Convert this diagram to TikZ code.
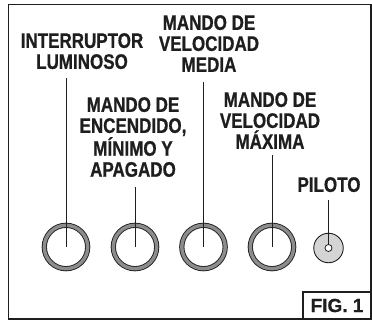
\documentclass[tikz,border=0pt]{standalone}
\usepackage{fontspec}
\usepackage{xcolor}
\usetikzlibrary{positioning,calc}
\setmainfont{Liberation Sans}
\newfontfamily\lblfont[FakeStretch=0.81, FakeBold=0.8]{Liberation Sans}
\newfontfamily\figfont[FakeBold=0.8]{Liberation Sans}
\definecolor{inkdark}{RGB}{30, 30, 30}
\definecolor{ringgray}{RGB}{140, 140, 140}
\definecolor{pilotgray}{RGB}{212, 212, 212}

\begin{document}
\begin{tikzpicture}[x=1pt, y=-1pt,
    label/.style={inner sep=0pt, anchor=north, align=center, text=inkdark, font=\lblfont\bfseries\fontsize{21}{21}\selectfont},
    knob/.style={circle, draw=inkdark, line width=0.9pt, double=ringgray, double distance=3.4pt, fill=white, minimum size=43.4pt, inner sep=0pt},
    pilotlamp/.style={circle, draw=inkdark, line width=0.9pt, fill=pilotgray, minimum size=29.5pt, inner sep=0pt},
    pilotdot/.style={circle, draw=inkdark, line width=0.8pt, fill=white, minimum size=7pt, inner sep=0pt},
    lead/.style={draw=inkdark, line width=0.9pt, shorten <=9pt}
]
    \useasboundingbox (0,0) rectangle (372,321);
    \draw[inkdark, line width=1.2pt] (8.5,4.5) rectangle (371,319);

    % mandos
    \node[knob] (k1) at (66,247) {};
    \node[knob] (k2) at (135,247) {};
    \node[knob] (k3) at (203.5,247) {};
    \node[knob] (k4) at (272,247) {};
    \node[pilotlamp] (pil) at (328.5,248) {};
    \node[pilotdot] (pildot) at (pil.center) {};

    % rotulos
    \node[label] (lblint) at (82,33) {INTERRUPTOR\\LUMINOSO};
    \node[label] (lblenc) at (133,97) {MANDO DE\\ENCENDIDO,\\MÍNIMO Y\\APAGADO};
    \node[label] (lblmed) at (209,15) {MANDO DE\\VELOCIDAD\\MEDIA};
    \node[label] (lblmax) at (270,92) {MANDO DE\\VELOCIDAD\\MÁXIMA};
    \node[label] (lblpil) at (329,177) {PILOTO};

    \draw[lead] (lblint.south -| k1) -- (k1.center);
    \draw[lead, shorten <=10pt] (lblenc.south -| k2) -- (k2.center);
    \draw[lead, shorten <=10pt] (lblmed.south -| k3) -- (k3.center);
    \draw[lead, shorten <=6pt] (lblmax.south -| k4) -- (k4.center);
    \draw[lead, shorten <=8pt] (lblpil.south -| pil) -- (pildot.north);

    \node[draw=inkdark, line width=1.2pt, minimum width=68pt, minimum height=27pt, inner sep=0pt, text=inkdark, font=\figfont\bfseries\fontsize{19}{21}\selectfont] (fig) at (337,305.5) {FIG.~1};
\end{tikzpicture}
\end{document}
